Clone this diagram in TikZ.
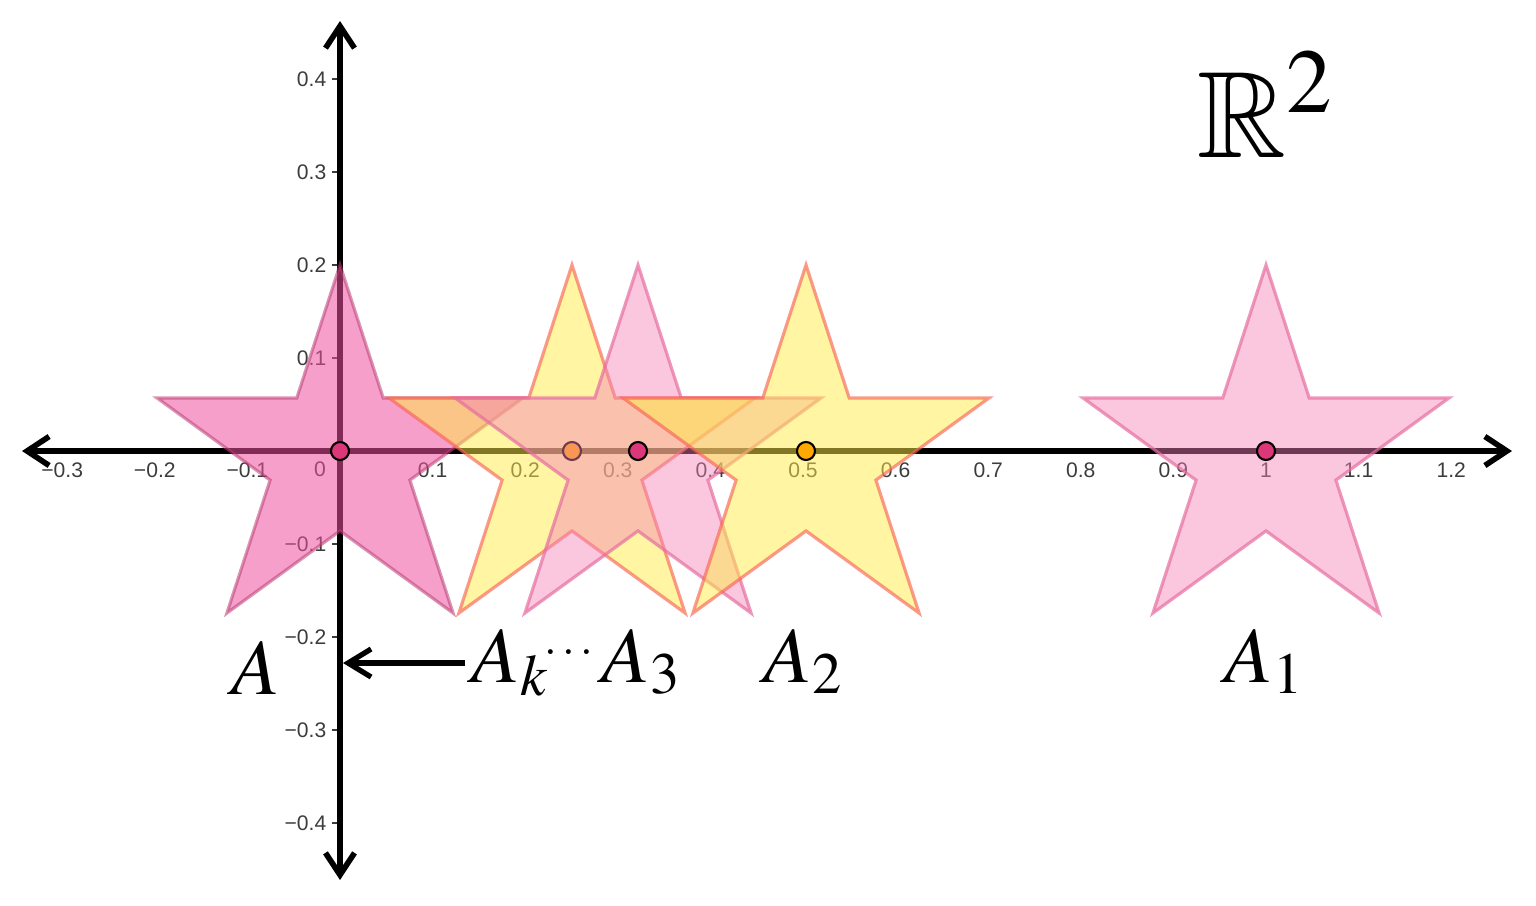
\documentclass[tikz,border=0pt]{standalone}
\usepackage{mathptmx}
\usepackage{amssymb}
\usepackage{fontspec}
\newfontfamily\ticksf{Liberation Sans}
\usetikzlibrary{arrows.meta}
\definecolor{darkpinkfill}{RGB}{238,80,160}
\definecolor{darkpinkline}{RGB}{185,60,115}
\definecolor{pinkfill}{RGB}{245,130,185}
\definecolor{pinkline}{RGB}{230,110,160}
\definecolor{yellowfill}{RGB}{255,236,70}
\definecolor{yellowline}{RGB}{248,100,85}
\definecolor{dotpink}{RGB}{220,55,120}
\definecolor{dotorange}{RGB}{255,168,0}
\definecolor{ticktext}{RGB}{60,60,60}
\newcommand\mystar[2]{%
  \begin{scope}[shift={(#1,457.4)}]
    \draw[#2] (270:192.4) -- (306:73.5) -- (342:192.4) -- (18:73.5) -- (54:192.4) -- (90:73.5)
      -- (126:192.4) -- (162:73.5) -- (198:192.4) -- (234:73.5) -- cycle;
  \end{scope}}
\begin{document}
\begin{tikzpicture}[x=0.01cm,y=-0.01cm,
  axisline/.style={line width=1.6pt,
    {Straight Barb[length=2.2mm,width=2.9mm]}-{Straight Barb[length=2.2mm,width=2.9mm]}},
  labelarrow/.style={line width=1.5pt,-{Straight Barb[length=2.3mm,width=2.8mm]}},
  ticklabel/.style={font=\ticksf\fontsize{6}{7}\selectfont, text=ticktext, inner sep=0pt},
  starA/.style={fill=darkpinkfill, fill opacity=0.55, draw=darkpinkline, draw opacity=0.55, line width=0.9pt, line join=miter},
  starpink/.style={fill=pinkfill, fill opacity=0.45, draw=pinkline, draw opacity=0.7, line width=0.9pt, line join=miter},
  staryellow/.style={fill=yellowfill, fill opacity=0.5, draw=yellowline, draw opacity=0.65, line width=0.9pt, line join=miter},
  dotp/.style={fill=dotpink, draw=black, line width=0.6pt},
  doto/.style={fill=dotorange, draw=black, line width=0.6pt},
  biglabel/.style={font=\fontsize{22.5}{26}\selectfont, inner sep=0pt, anchor=base west}]
\useasboundingbox (0,0) rectangle (1536,905);

% y ticks and tick labels
\foreach \v/\t in {0.4/0.4,0.3/0.3,0.2/0.2,0.1/0.1,-0.1/−0.1,-0.2/−0.2,-0.3/−0.3,-0.4/−0.4}{
  \draw[ticktext, line width=0.4pt] (332,{451-930*\v}) -- (340,{451-930*\v});
  \node[ticklabel, anchor=east] (yt\t) at (327,{451-930*\v}) {\t};
}
% x tick labels
\foreach \v/\t in {-0.3/−0.3,-0.2/−0.2,-0.1/−0.1,0.1/0.1,0.2/0.2,0.3/0.3,0.4/0.4,0.5/0.5,0.6/0.6,0.7/0.7,0.8/0.8,0.9/0.9,1/1,1.1/1.1,1.2/1.2}{
  \node[ticklabel] (xt\t) at ({340+926*\v},470) {\t};
}
\node[ticklabel] (origin) at (320,469) {0};

% axes
\draw[axisline] (22,451) -- (1512,451);
\draw[axisline] (340,880) -- (340,21);

% stars and points
\mystar{340}{starA}
\mystar{572}{staryellow}
\draw[doto] (572,451) circle[radius=9];
\mystar{638}{starpink}
\draw[dotp] (638,451) circle[radius=9];
\mystar{806}{staryellow}
\draw[doto] (806,451) circle[radius=9];
\mystar{1266}{starpink}
\draw[dotp] (1266,451) circle[radius=9];
\draw[dotp] (340,451) circle[radius=9];

% labels
\node[biglabel] (lA) at (231,694) {$A$};
\node[biglabel] (lAk) at (471,682) {$A_k$};
\node[font=\fontsize{13}{15}\selectfont, inner sep=0pt] (ldots) at (569,653) {$\cdots$};
\node[biglabel] (lA3) at (601,682) {$A_3$};
\node[biglabel] (lA2) at (763,682) {$A_2$};
\node[biglabel] (lA1) at (1224,682) {$A_1$};
\node[font=\fontsize{35}{40}\selectfont, inner sep=0pt, anchor=base west] (R2) at (1197,157) {$\mathbb{R}^2$};

\coordinate (arrstart) at (465,663);
\coordinate (arrend) at (343,663);
\draw[labelarrow] (arrstart) -- (arrend);
\end{tikzpicture}
\end{document}
